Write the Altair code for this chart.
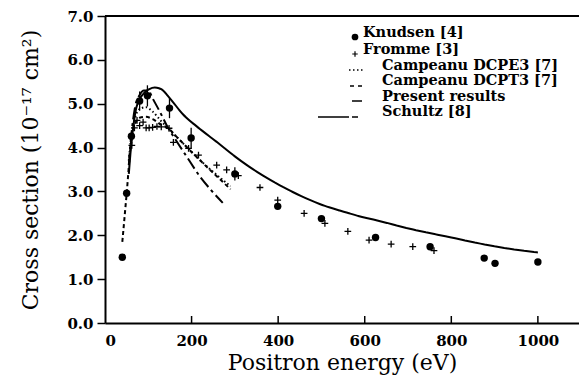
import altair as alt
import pandas as pd

# ---------------- data ----------------
knudsen_E = [40, 50, 61, 80, 98, 149, 199, 300, 399, 500, 625, 751, 876, 901, 1000]
knudsen_s = [1.50, 2.96, 4.26, 5.06, 5.18, 4.90, 4.22, 3.40, 2.66, 2.38, 1.95, 1.74, 1.48, 1.36, 1.39]
knudsen_err = [0, 0, 0, 0.22, 0.24, 0.23, 0.23, 0.15, 0, 0, 0, 0, 0, 0, 0]

fromme_E = [62, 68, 74, 80, 88, 95, 102, 110, 120, 130, 148, 158, 193, 216, 258,
            281, 308, 358, 399, 460, 508, 561, 610, 661, 711, 760]
fromme_s = [4.05, 4.45, 4.62, 4.50, 4.58, 4.45, 4.45, 4.46, 4.48, 4.47, 4.44, 4.12, 3.98,
            3.83, 3.60, 3.49, 3.36, 3.09, 2.80, 2.50, 2.27, 2.09, 1.89, 1.80, 1.74, 1.65]

dcpe3_E = [55, 60, 70, 80, 95, 110, 130, 150, 175, 200, 230, 260, 290]
dcpe3_s = [3.70, 4.20, 4.70, 4.88, 4.92, 4.82, 4.60, 4.40, 4.15, 3.90, 3.62, 3.36, 3.12]

dcpt3_E = [40, 50, 60, 70, 80, 95, 110, 130, 146, 165, 181, 205, 231, 260, 290]
dcpt3_s = [1.85, 2.95, 4.10, 4.55, 4.68, 4.70, 4.65, 4.52, 4.44, 4.25, 4.09, 3.85, 3.60, 3.33, 3.05]

present_E = [55, 60, 65, 70, 80, 90, 100, 115, 130, 150, 180, 220, 258, 277, 300, 354,
             404, 431, 508, 558, 585, 620, 712, 800, 867, 930, 1000]
present_s = [3.40, 4.00, 4.45, 4.80, 5.10, 5.24, 5.32, 5.37, 5.33, 5.12, 4.76, 4.42, 4.13,
             3.98, 3.80, 3.43, 3.14, 3.00, 2.67, 2.52, 2.44, 2.36, 2.13, 1.95, 1.81, 1.70, 1.61]

schultz_E = [55, 60, 70, 80, 90, 100, 110, 125, 143, 165, 189, 220, 245, 272]
schultz_s = [3.60, 4.20, 4.95, 5.20, 5.30, 5.30, 5.12, 4.85, 4.50, 4.15, 3.79, 3.33, 3.03, 2.74]

x_tick_values = [0, 200, 400, 600, 800, 1000]
x_inner_ticks = [200, 400, 600, 800, 1000]
y_tick_values = [0, 1, 2, 3, 4, 5, 6, 7]

series_names = ["Campeanu DCPE3 [7]", "Campeanu DCPT3 [7]", "Present results", "Schultz [8]"]
series_dash = [[1.5, 2.5], [4, 3], [10, 0], [12, 4, 3, 4]]

# ---------------- tables ----------------
knudsen = pd.DataFrame({"E": knudsen_E, "s": knudsen_s, "err": knudsen_err})
fromme = pd.DataFrame({"E": fromme_E, "s": fromme_s})
curves = pd.concat([
    pd.DataFrame({"E": dcpe3_E, "s": dcpe3_s, "series": series_names[0]}),
    pd.DataFrame({"E": dcpt3_E, "s": dcpt3_s, "series": series_names[1]}),
    pd.DataFrame({"E": present_E, "s": present_s, "series": series_names[2]}),
    pd.DataFrame({"E": schultz_E, "s": schultz_s, "series": series_names[3]}),
], ignore_index=True)

W, H = 474, 307
FONT = "DejaVu Serif"

xscale = alt.Scale(domain=[0, 1095], nice=False, zero=False)
yscale = alt.Scale(domain=[0, 7], nice=False)

xaxis = alt.Axis(values=x_tick_values, format="d", ticks=False, tickSize=0, labelPadding=10,
                 labelFont=FONT, labelFontWeight="bold", labelFontSize=15,
                 title="Positron energy (eV)", titleFont=FONT, titleFontSize=22,
                 titleFontWeight="normal", titlePadding=4, grid=False,
                 domainWidth=2, domainColor="black", labelColor="black", titleColor="black")
yaxis = alt.Axis(values=y_tick_values, format=".1f", tickSize=8, tickWidth=1.5, tickColor="black",
                 labelPadding=4, labelFont=FONT, labelFontWeight="bold", labelFontSize=15,
                 title="Cross section (10⁻¹⁷  cm²)", titleFont=FONT, titleFontSize=22,
                 titleFontWeight="normal", titlePadding=24, grid=False,
                 domainWidth=2, domainColor="black", labelColor="black", titleColor="black")

X = alt.X("E:Q", scale=xscale, axis=xaxis)
Y = alt.Y("s:Q", scale=yscale, axis=yaxis)

lines = alt.Chart(curves).mark_line(color="black", strokeWidth=2, interpolate="monotone", clip=True).encode(
    x=X, y=Y,
    strokeDash=alt.StrokeDash("series:N", scale=alt.Scale(domain=series_names, range=series_dash), legend=None),
)

errbars = alt.Chart(knudsen).transform_filter("datum.err > 0").transform_calculate(
    lo="datum.s - datum.err", hi="datum.s + datum.err"
).mark_rule(color="black", strokeWidth=1.3).encode(
    x=X, y=alt.Y("lo:Q", scale=yscale, axis=yaxis), y2="hi:Q"
)

kpts = alt.Chart(knudsen).mark_point(shape="circle", filled=True, color="black", size=55, opacity=1).encode(x=X, y=Y)

PLUS = "M-1,0L1,0M0,-1L0,1"
fpts = alt.Chart(fromme).mark_point(shape=PLUS, filled=False, color="black", size=45,
                                     strokeWidth=1.3, opacity=1).encode(x=X, y=Y)

ticks_in = alt.Chart(pd.DataFrame({"E": x_inner_ticks})).mark_rule(color="black", strokeWidth=1.5).encode(
    x=X, y=alt.value(H - 7), y2=alt.value(H)
)

frame_top = alt.Chart(alt.Data(values=[{}])).mark_rule(color="black", strokeWidth=2).encode(
    x=alt.value(0), x2=alt.value(W + 10), y=alt.value(0)
)

# ---------------- legend (hand-drawn like the original) ----------------
one = alt.Data(values=[{}])
leg_layers = []
legend_rows = [
    ("Knudsen [4]", 258, 17),
    ("Fromme [3]", 258, 34),
    ("Campeanu DCPE3 [7]", 277, 49.5),
    ("Campeanu DCPT3 [7]", 277, 65),
    ("Present results", 277, 80.5),
    ("Schultz [8]", 277, 96),
]
for label, tx, ty in legend_rows:
    leg_layers.append(alt.Chart(one).mark_text(text=label, align="left", baseline="middle",
                                               font=FONT, fontWeight="bold", fontSize=14.5,
                                               color="black").encode(x=alt.value(tx), y=alt.value(ty)))
leg_layers.append(alt.Chart(one).mark_point(shape="circle", filled=True, color="black", size=45,
                                            opacity=1).encode(x=alt.value(250), y=alt.value(21)))
leg_layers.append(alt.Chart(one).mark_point(shape=PLUS, filled=False, color="black", size=30,
                                            strokeWidth=1.2, opacity=1).encode(x=alt.value(250), y=alt.value(38)))
leg_layers.append(alt.Chart(one).mark_rule(color="black", strokeWidth=1.5, strokeDash=[1.5, 2.5]).encode(
    x=alt.value(244), x2=alt.value(259), y=alt.value(54)))
leg_layers.append(alt.Chart(one).mark_rule(color="black", strokeWidth=1.5, strokeDash=[4, 4]).encode(
    x=alt.value(245), x2=alt.value(258), y=alt.value(70)))
leg_layers.append(alt.Chart(one).mark_rule(color="black", strokeWidth=1.5).encode(
    x=alt.value(247), x2=alt.value(257), y=alt.value(85)))
leg_layers.append(alt.Chart(one).mark_rule(color="black", strokeWidth=1.5, strokeDash=[31, 3, 6, 60]).encode(
    x=alt.value(213), x2=alt.value(253), y=alt.value(101)))

chart = alt.layer(lines, errbars, kpts, fpts, ticks_in, frame_top, *leg_layers).properties(
    width=W, height=H,
    padding={"left": 105, "top": 16, "right": 0, "bottom": 54},
    autosize=alt.AutoSizeParams(type="none"),
    background="white",
).configure_view(stroke=None)

chart.save("out.html", embed_options={"renderer": "svg", "actions": False})
